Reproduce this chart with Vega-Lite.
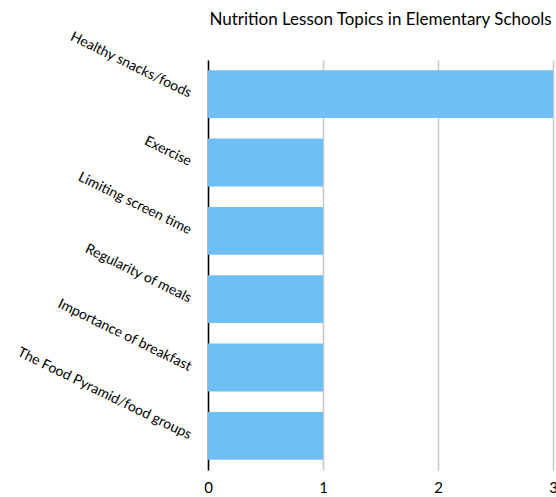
{
  "$schema": "https://vega.github.io/schema/vega-lite/v6.json",
  "autosize": "none",
  "padding": {"left": 208, "top": 60, "right": 3, "bottom": 27},
  "width": 345,
  "height": 410,
  "title": {"text": "Nutrition Lesson Topics in Elementary Schools", "font": "Lato", "fontSize": 17, "fontWeight": "normal", "color": "#000", "anchor": "middle", "offset": 0},
  "data": {"values": [
    {"topic": "Healthy snacks/foods", "count": 3},
    {"topic": "Exercise", "count": 1},
    {"topic": "Limiting screen time", "count": 1},
    {"topic": "Regularity of meals", "count": 1},
    {"topic": "Importance of breakfast", "count": 1},
    {"topic": "The Food Pyramid/food groups", "count": 1}
  ]},
  "mark": {"type": "bar", "color": "#6fbff5"},
  "encoding": {
    "y": {"field": "topic", "type": "nominal", "sort": null, "title": null,
      "scale": {"paddingInner": 0.3, "paddingOuter": 0.15},
      "axis": {"labelAngle": 26, "labelAlign": "right", "labelBaseline": "middle", "labelFont": "Lato", "labelFontSize": 14, "labelColor": "#000", "ticks": false, "domainColor": "#000", "domainWidth": 1.5, "labelPadding": 18, "labelLimit": 300}},
    "x": {"field": "count", "type": "quantitative", "title": null,
      "scale": {"domain": [0, 3], "nice": false},
      "axis": {"values": [0, 1, 2, 3], "format": "d", "domain": false, "ticks": false, "gridColor": "#c8c8c8", "gridWidth": 1.5, "labelFont": "Lato", "labelFontSize": 15, "labelColor": "#000", "labelPadding": 10, "labelFlush": false}}
  },
  "config": {"view": {"stroke": null}}
}
